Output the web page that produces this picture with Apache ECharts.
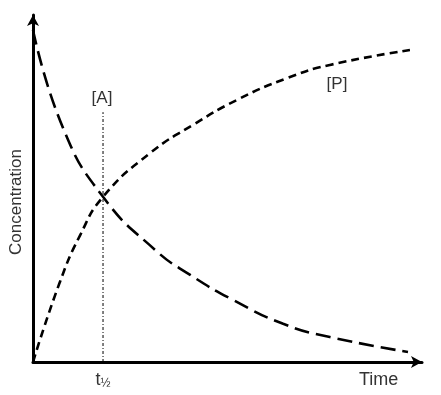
<!DOCTYPE html>
<html><head><meta charset="utf-8">
<script src="https://cdn.jsdelivr.net/npm/echarts@6/dist/echarts.min.js"></script>
<style>html,body{margin:0;padding:0;background:#fff}#c{width:441px;height:395px}</style>
</head><body><div id="c"></div>
<script>
// Reactant [A] concentration vs time (arbitrary units)
const timeA = [0, 7.7, 18.0, 31.4, 40.4, 51.4, 64.3, 76.3, 96.4];
const concA = [95.7, 67.5, 47.6, 32.3, 25.1, 17.9, 11.0, 7.2, 2.9];
// Product [P] concentration vs time
const timeP = [0, 6.9, 12.1, 18.0, 30.1, 41.1, 52.4, 65.3, 76.3, 96.9];
const concP = [0, 23.0, 36.5, 47.6, 60.2, 68.3, 75.5, 81.8, 85.6, 89.9];
// half-life marker
const halfLife = 18;
const halfLineTop = 72;
const tickValues = [18];
const tickLabels = ['t½'];
const seriesNames = ['[A]', '[P]'];

const font = 'Liberation Sans, Arial, sans-serif';
const chart = echarts.init(document.getElementById('c'));
chart.setOption({
  animation: false,
  backgroundColor: '#fff',
  grid: {left: 33, right: 19, top: 15, bottom: 33},
  xAxis: {
    type: 'value', min: 0, max: 100, interval: 18,
    axisLine: {show: true, symbol: ['none', 'arrow'], symbolSize: [9, 11], lineStyle: {color: '#000', width: 3}},
    axisTick: {show: false}, splitLine: {show: false},
    axisLabel: {
      margin: 8, color: '#333', fontFamily: font,
      formatter: v => { const i = tickValues.indexOf(v); return i < 0 ? '' : '{a|t}{b|½}'; },
      rich: {a: {fontSize: 18, color: '#333', fontFamily: font}, b: {fontSize: 12, color: '#333', fontFamily: font, padding: [8, 0, 0, 0]}}
    }
  },
  yAxis: {
    type: 'value', min: 0, max: 100,
    axisLine: {show: true, symbol: ['none', 'arrow'], symbolSize: [9, 11], lineStyle: {color: '#000', width: 3}},
    axisTick: {show: false}, splitLine: {show: false}, axisLabel: {show: false}
  },
  graphic: [
    {type: 'text', left: 359, top: 371, style: {text: 'Time', fontSize: 18, fill: '#333', fontFamily: font}},
    {type: 'text', x: 16, y: 202, rotation: Math.PI / 2, style: {text: 'Concentration', fontSize: 17, fill: '#333', fontFamily: font, align: 'center', verticalAlign: 'middle'}},
    {type: 'text', x: 102, y: 98, style: {text: seriesNames[0], fontSize: 17, fill: '#333', fontFamily: font, align: 'center', verticalAlign: 'middle'}},
    {type: 'text', x: 337, y: 84, style: {text: seriesNames[1], fontSize: 17, fill: '#333', fontFamily: font, align: 'center', verticalAlign: 'middle'}}
  ],
  series: [
    {name: seriesNames[0], type: 'line', smooth: 0.5, symbol: 'none',
     data: timeA.map((t, i) => [t, concA[i]]),
     lineStyle: {color: '#000', width: 2.6, type: [15, 7]}},
    {name: seriesNames[1], type: 'line', smooth: 0.5, symbol: 'none',
     data: timeP.map((t, i) => [t, concP[i]]),
     lineStyle: {color: '#000', width: 2.6, type: [8, 5]}},
    {name: 'half', type: 'line', symbol: 'none',
     data: [[halfLife, 0], [halfLife, halfLineTop]],
     lineStyle: {color: '#000', width: 1, type: [3, 2, 1, 2]}}
  ]
});
</script></body></html>
